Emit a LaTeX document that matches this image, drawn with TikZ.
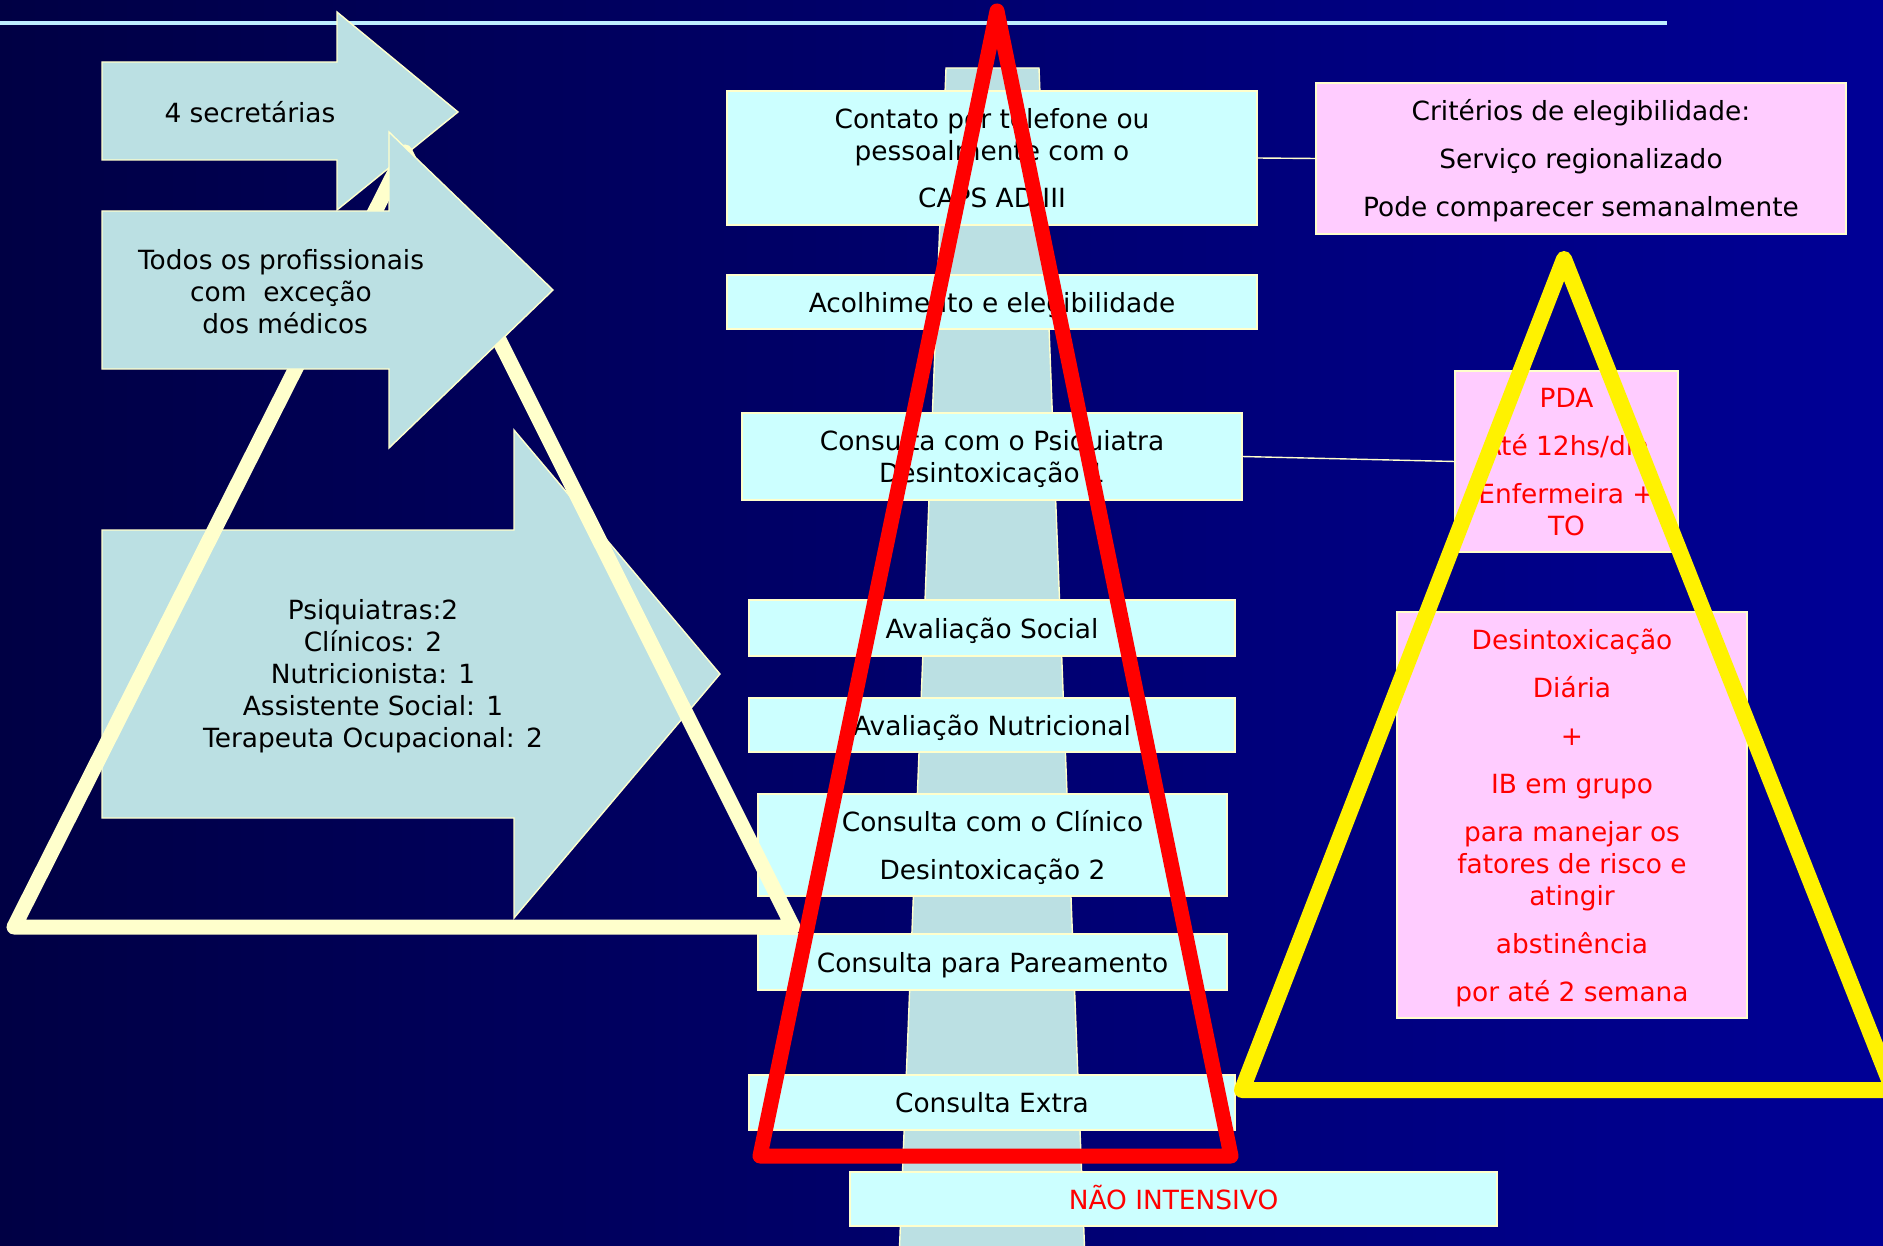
\documentclass[tikz,border=0pt]{standalone}
\usepackage{fontspec}
\setmainfont{DejaVu Sans}
\definecolor{bgL}{RGB}{0,0,68}
\definecolor{bgR}{RGB}{0,0,150}
\definecolor{colA}{RGB}{187,224,227}
\definecolor{boxc}{RGB}{204,255,255}
\definecolor{pinkc}{RGB}{255,204,255}
\definecolor{edgec}{RGB}{255,255,204}
\definecolor{creamc}{RGB}{255,255,204}
\definecolor{topl}{RGB}{190,238,255}
\newcommand{\ps}{\rule[-0.21em]{0pt}{1.2em}}
\begin{document}
\begin{tikzpicture}[x=0.5pt,y=-0.5pt,
  shp/.style={fill=colA,draw=edgec,line width=0.7pt},
  cbox/.style={fill=boxc,draw=edgec,line width=0.7pt,inner sep=0pt,outer sep=0pt,align=center,text=black,
    font=\fontsize{13.2pt}{16pt}\selectfont},
  pbox/.style={cbox,fill=pinkc,text=red},
  txt/.style={align=center,inner sep=0pt,text=black,font=\fontsize{13.2pt}{16pt}\selectfont},
  conn/.style={draw=edgec,line width=0.7pt},
  tri/.style={line join=round,line cap=round}]
\useasboundingbox (0,0) rectangle (1883,1246);
\clip (0,0) rectangle (1883,1246);
\shade[left color=bgL,right color=bgR] (0,0) rectangle (1883,1246);
% top line
\draw[topl,line width=2pt] (0,23) -- (1667,23);
% arrow 3 and arrow 1 (under cream triangle)
\draw[shp] (102,530) -- (514,530) -- (514,430) -- (720,674) -- (514,918) -- (514,818) -- (102,818) -- cycle;
\node[txt] (a3) at (373,673) {\ps Psiquiatras:2\\Clínicos: 2\\Nutricionista: 1\\Assistente Social: 1\\Terapeuta Ocupacional: 2\ps};
\draw[shp] (102,62) -- (337,62) -- (337,12) -- (458,112) -- (337,210) -- (337,160) -- (102,160) -- cycle;
\node[txt] (a1) at (250,112) {\ps 4 secretárias};
% central column
\draw[shp] (946,68) -- (1039,68) -- (1085,1260) -- (899,1260) -- cycle;
% boxes
\node[cbox,minimum width=265pt,minimum height=67pt] (b1) at (992,158) {\ps Contato por telefone ou\\pessoalmente com o\\[7.5pt]CAPS AD III\ps};
\node[cbox,minimum width=265pt,minimum height=27pt] (b2) at (992,302) {\ps Acolhimento e elegibilidade};
\node[cbox,minimum width=250pt,minimum height=43.5pt] (b3) at (992,456.5) {\ps Consulta com o Psiquiatra\\Desintoxicação 1\ps};
\node[cbox,minimum width=243pt,minimum height=28pt] (b4) at (992,628) {\ps Avaliação Social};
\node[cbox,minimum width=243pt,minimum height=27pt] (b5) at (992,725) {\ps Avaliação Nutricional};
\node[cbox,minimum width=234.5pt,minimum height=51pt] (b6) at (992.5,845) {\ps Consulta com o Clínico\\[8pt]Desintoxicação 2\ps};
\node[cbox,minimum width=234.5pt,minimum height=28pt] (b7) at (992.5,962) {\ps Consulta para Pareamento};
\node[cbox,minimum width=243pt,minimum height=27.5pt] (b8) at (992,1102.5) {\ps Consulta Extra};
\node[cbox,minimum width=323.5pt,minimum height=27pt,text=red] (b9) at (1173.5,1199) {\ps NÃO INTENSIVO};
% cream triangle
\draw[tri,creamc,line width=7.5pt] (405,152) -- (14,927) -- (793,927) -- cycle;
% arrow 2 (over cream triangle)
\draw[shp] (102,211) -- (389,211) -- (389,132) -- (553,290) -- (389,448) -- (389,369) -- (102,369) -- cycle;
\node[txt] (a2) at (281,291) {\ps Todos os profissionais\\com\ \ exceção\\\ dos médicos\ps};
% pink boxes
\node[pbox,text=black,minimum width=265pt,minimum height=75.5pt] (crit) at (1581,158.5) {\ps Critérios de elegibilidade:\\[8pt]Serviço regionalizado\\[8pt]Pode comparecer semanalmente\ps};
\node[pbox,minimum width=111.5pt,minimum height=90.5pt] (pda) at (1566.5,461.5) {\ps PDA\\[8pt]Até 12hs/dia\\[8pt]Enfermeira +\\TO\ps};
\node[pbox,minimum width=175pt,minimum height=203pt] (dtx) at (1572,815) {\ps Desintoxicação\\[8pt]Diária\\[8pt]+\\[8pt]IB em grupo\\[8pt]para manejar os\\fatores de risco e\\atingir\\[8pt]abstinência\\[8pt]por até 2 semana\ps};
% connectors
\draw[conn] (b1.east) -- (crit.west);
\draw[conn] (b3.east) -- (pda.west);
% red and yellow triangles
\draw[tri,red,line width=7.5pt] (997,11) -- (760,1156) -- (1231,1156) -- cycle;
\draw[tri,yellow,line width=8pt] (1564,259) -- (1242,1090) -- (1893,1090) -- cycle;
\end{tikzpicture}
\end{document}
